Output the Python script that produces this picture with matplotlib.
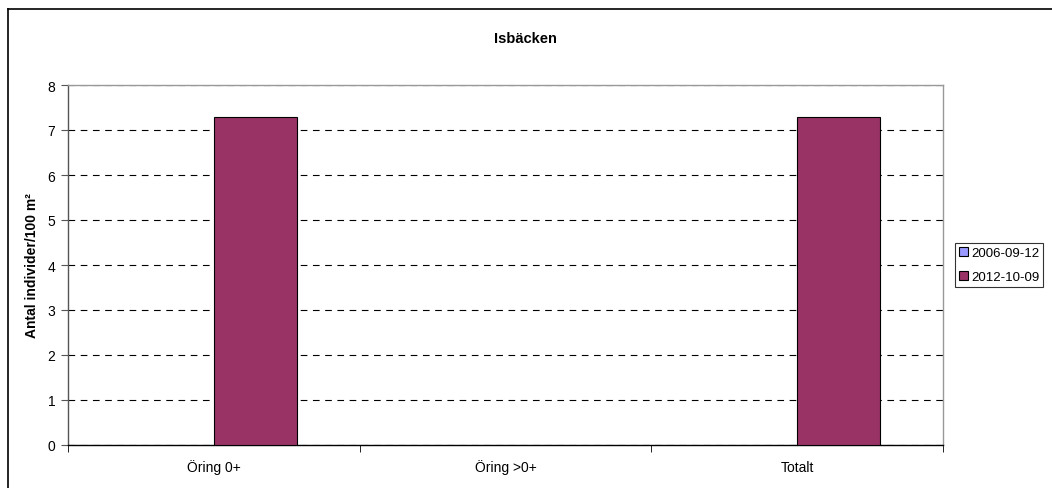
import numpy as np
import matplotlib
matplotlib.use('Agg')
import matplotlib.pyplot as plt
from matplotlib.lines import Line2D
from matplotlib.patches import Patch

plt.rcParams['font.family'] = ['Liberation Sans', 'DejaVu Sans']

categories = ['Öring 0+', 'Öring >0+', 'Totalt']
series_names = ['2006-09-12', '2012-10-09']
values_2006 = [0.0, 0.0, 0.0]
values_2012 = [7.3, 0.0, 7.3]
colors = ['#9999FF', '#993366']

W, H = 1052, 489
fig = plt.figure(figsize=(W / 100, H / 100), dpi=100)

# outer chart frame (only top and left edge fall inside the image)
fig.add_artist(Line2D([8 / W, 8 / W], [0, 1 - 10 / H], color='black', lw=1.2))
fig.add_artist(Line2D([8 / W, 1], [1 - 10 / H, 1 - 10 / H], color='black', lw=1.2))

left, right, top, bottom = 68, 943, 86, 446
ax = fig.add_axes([left / W, 1 - bottom / H, (right - left) / W, (bottom - top) / H])

x = np.arange(len(categories))
bw = 0.285
for vals, col, off in [(values_2006, colors[0], -bw / 2),
                       (values_2012, colors[1], bw / 2)]:
    bars = ax.bar(x + off, vals, bw, color=col, edgecolor='black', lw=0.8, zorder=3)
    for b, v in zip(bars, vals):
        if v == 0:
            b.set_linewidth(0)

ax.set_xlim(-0.5, len(categories) - 0.5)
ax.set_ylim(0, 8)
ax.set_yticks(range(0, 9))
ax.yaxis.grid(True, color='black', ls=(0, (6, 5)), lw=0.8)
ax.set_axisbelow(True)

ax.set_xticks(x)
ax.set_xticklabels(categories, fontsize=10, va='baseline')
ax.set_xticks(np.arange(-0.5, len(categories)), minor=True)
ax.tick_params(axis='x', which='major', length=0, pad=19)
ax.tick_params(axis='x', which='minor', length=5, direction='out', color='black')
ax.tick_params(axis='y', length=5, direction='out', labelsize=10, pad=4, color='#555555')

ax.spines['top'].set_color('#999999')
ax.spines['right'].set_color('#999999')
ax.spines['left'].set_color('#555555')
ax.spines['bottom'].set_color('black')
for s in ax.spines.values():
    s.set_linewidth(1.0)

ax.set_ylabel('Antal individer/100 m²', fontsize=10, fontweight='bold', labelpad=6)
fig.text(525 / W, 1 - 39 / H, 'Isbäcken', ha='center', va='center',
         fontsize=10.5, fontweight='bold')

handles = [Patch(facecolor=c, edgecolor='black', lw=0.8, label=n)
           for c, n in zip(colors, series_names)]
leg = ax.legend(handles=handles, loc='center left',
                bbox_to_anchor=(955 / W, 1 - 266 / H),
                bbox_transform=fig.transFigure, fontsize=9.5, frameon=True,
                fancybox=False, edgecolor='black', handlelength=0.65,
                handleheight=0.65, handletextpad=0.25, borderpad=0.3,
                labelspacing=0.95, borderaxespad=0)
leg.get_frame().set_linewidth(0.8)

fig.savefig('out.png', dpi=100)
